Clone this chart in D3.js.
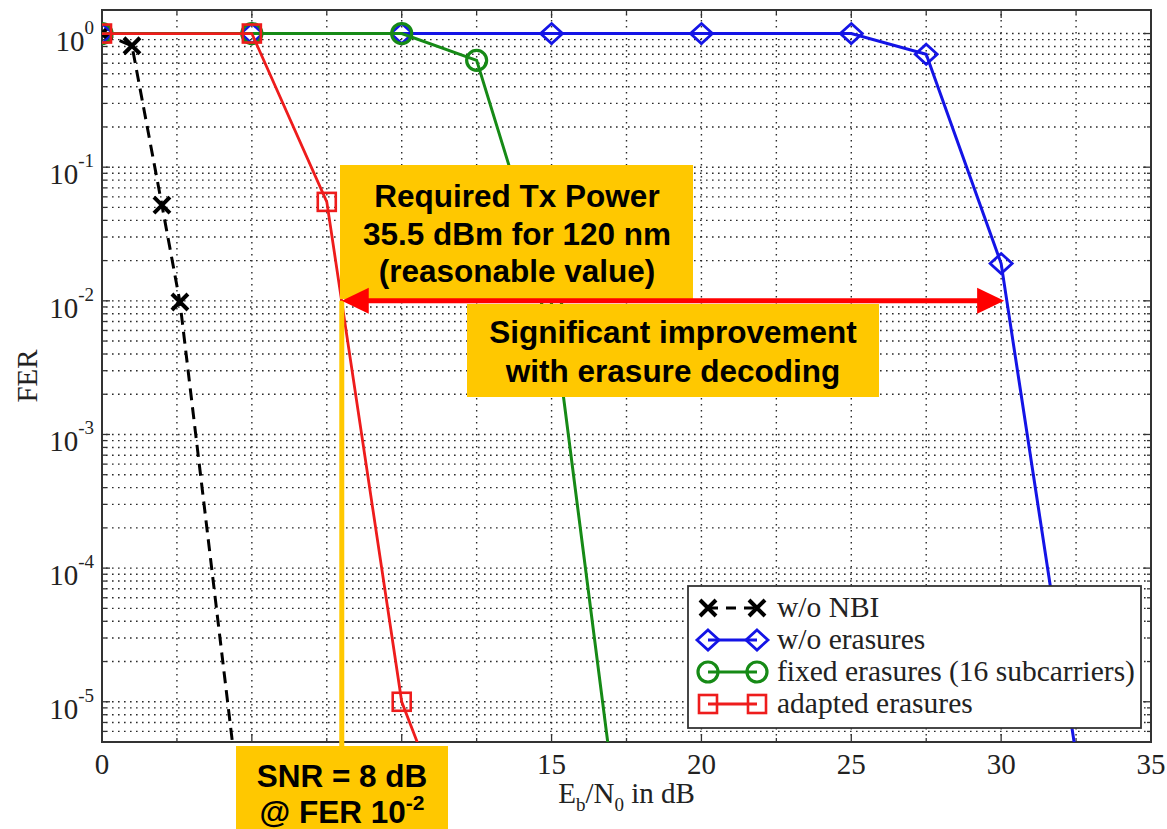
<!DOCTYPE html>
<html>
<head>
  <title>FER vs Eb/N0</title>
  <script src="https://d3js.org/d3.v7.min.js"></script>
  <style type="text/css">
    body {
      margin: 0;
      background-color: #ffffff;
    }
    svg {
      display: block;
    }
    .serif {
      font-family: 'Liberation Serif', 'Times New Roman', serif;
      fill: #222222;
    }
    .note {
      font-family: 'Liberation Sans', Arial, sans-serif;
      font-weight: bold;
      fill: #000000;
    }
  </style>
</head>
<body>
<div id="chart"></div>

<script>
  // series data (Eb/N0 in dB, FER)
  var noNbiX = [0, 1, 2, 2.6, 5];
  var noNbiFer = [1, 0.81, 0.052, 0.0098, 3e-7];
  var noErasX = [0, 5, 10, 15, 20, 25, 27.5, 30, 32.5];
  var noErasFer = [1, 1, 1, 1, 1, 1, 0.70, 0.019, 4e-6];
  var fixedX = [0, 5, 10, 12.5, 15, 17.5];
  var fixedFer = [1, 1, 1, 0.63, 0.0095, 4e-7];
  var adaptX = [0, 5, 7.5, 10, 12.5];
  var adaptFer = [1, 1, 0.055, 1e-5, 3.5e-7];

  var legendLabels = ["w/o NBI", "w/o erasures", "fixed erasures (16 subcarriers)", "adapted erasures"];

  var xTicks = [0, 5, 10, 15, 20, 25, 30, 35];
  var xMinorTicks = [2.5, 7.5, 12.5, 17.5, 22.5, 27.5, 32.5];
  var yTicks = [1, 0.1, 0.01, 0.001, 0.0001, 0.00001];
  var yTickExp = ["0", "-1", "-2", "-3", "-4", "-5"];

  // annotation values
  var ferRef = 0.01;
  var snrAdapted = 8;
  var snrNoErasures = 30.1;
  var noteTxPower = ["Required Tx Power", "35.5 dBm for 120 nm", "(reasonable value)"];
  var noteGain = ["Significant improvement", "with erasure decoding"];
  var noteSnr = ["SNR = 8 dB", "@ FER 10", "-2"];

  var W = 1167, H = 829;
  var pL = 102, pR = 1151, pT = 10, pB = 742;

  var svg = d3.select("#chart").append("svg").attr("width", W).attr("height", H);

  var x = d3.scaleLinear().domain([0, 35]).range([pL, pR]);
  var y = d3.scaleLog().domain([5e-6, 1.5]).range([pB, pT]);

  svg.append("defs").append("clipPath").attr("id", "plotclip")
    .append("rect").attr("x", pL).attr("y", pT).attr("width", pR - pL).attr("height", pB - pT);

  // grid (dotted, major + minor like matlab)
  var yGrid = [];
  for (var e = -6; e <= 0; e++) {
    for (var m = 1; m <= 9; m++) {
      var v = m * Math.pow(10, e);
      if (v >= 5e-6 && v <= 1.5) yGrid.push(v);
    }
  }
  var grid = svg.append("g");
  grid.selectAll(".hg").data(yGrid).enter().append("line")
    .attr("x1", pL + 4).attr("x2", pR - 4)
    .attr("y1", function(d) { return y(d); }).attr("y2", function(d) { return y(d); })
    .attr("stroke", "#2a2a2a").attr("stroke-width", 1.4).attr("stroke-dasharray", "1.6,4.4");
  grid.selectAll(".vg").data(xTicks.concat(xMinorTicks).filter(function(d) { return d > 0 && d < 35; })).enter().append("line")
    .attr("x1", function(d) { return x(d); }).attr("x2", function(d) { return x(d); })
    .attr("y1", pT + 4).attr("y2", pB - 4)
    .attr("stroke", "#2a2a2a").attr("stroke-width", 1.4).attr("stroke-dasharray", "1.6,4.4");

  // inward ticks on all sides
  var ticks = svg.append("g").attr("stroke", "#333").attr("stroke-width", 1.3);
  xTicks.concat(xMinorTicks).forEach(function(d) {
    var len = xTicks.indexOf(d) >= 0 ? 8 : 4;
    ticks.append("line").attr("x1", x(d)).attr("x2", x(d)).attr("y1", pB).attr("y2", pB - len);
    ticks.append("line").attr("x1", x(d)).attr("x2", x(d)).attr("y1", pT).attr("y2", pT + len);
  });
  yGrid.forEach(function(d) {
    var len = yTicks.indexOf(d) >= 0 ? 8 : 4;
    ticks.append("line").attr("x1", pL).attr("x2", pL + len).attr("y1", y(d)).attr("y2", y(d));
    ticks.append("line").attr("x1", pR).attr("x2", pR - len).attr("y1", y(d)).attr("y2", y(d));
  });

  // frame
  svg.append("rect").attr("x", pL).attr("y", pT).attr("width", pR - pL).attr("height", pB - pT)
    .attr("fill", "none").attr("stroke", "#333").attr("stroke-width", 2);

  // tick labels
  svg.selectAll(".xl").data(xTicks).enter().append("text").attr("class", "serif")
    .attr("x", function(d) { return x(d); }).attr("y", pB + 32)
    .attr("text-anchor", "middle").attr("font-size", 29).text(function(d) { return d; });

  yTicks.forEach(function(d, i) {
    var t = svg.append("text").attr("class", "serif").attr("x", pL - 8).attr("y", y(d) + 17)
      .attr("text-anchor", "end").attr("font-size", 29);
    t.append("tspan").text("10");
    t.append("tspan").attr("dy", -17).attr("font-size", 19).text(yTickExp[i]);
  });

  // axis titles
  var xl = svg.append("text").attr("class", "serif").attr("x", x(17.5)).attr("y", 803)
    .attr("text-anchor", "middle").attr("font-size", 29);
  xl.append("tspan").text("E");
  xl.append("tspan").attr("dy", 8).attr("font-size", 19).text("b");
  xl.append("tspan").attr("dy", -8).text("/N");
  xl.append("tspan").attr("dy", 8).attr("font-size", 19).text("0");
  xl.append("tspan").attr("dy", -8).text(" in dB");

  svg.append("text").attr("class", "serif").attr("transform", "translate(37,376) rotate(-90)")
    .attr("text-anchor", "middle").attr("font-size", 29).text("FER");

  // markers
  function marker(g, kind, cx, cy, color) {
    if (kind == "x") {
      g.append("path").attr("d", "M" + (cx - 8) + "," + (cy - 8) + "L" + (cx + 8) + "," + (cy + 8) + "M" + (cx - 8) + "," + (cy + 8) + "L" + (cx + 8) + "," + (cy - 8))
        .attr("stroke", color).attr("stroke-width", 4).attr("fill", "none");
    } else if (kind == "diamond") {
      g.append("path").attr("d", "M" + cx + "," + (cy - 10) + "L" + (cx + 11) + "," + cy + "L" + cx + "," + (cy + 10) + "L" + (cx - 11) + "," + cy + "Z")
        .attr("stroke", color).attr("stroke-width", 2.8).attr("fill", "none");
    } else if (kind == "circle") {
      g.append("circle").attr("cx", cx).attr("cy", cy).attr("r", 10)
        .attr("stroke", color).attr("stroke-width", 3.2).attr("fill", "none");
    } else {
      g.append("rect").attr("x", cx - 9).attr("y", cy - 9).attr("width", 18).attr("height", 18)
        .attr("stroke", color).attr("stroke-width", 2.6).attr("fill", "none");
    }
  }

  var series = [
    {x: noNbiX, y: noNbiFer, color: "#000000", kind: "x", dash: "12,7", width: 3},
    {x: noErasX, y: noErasFer, color: "#1414e6", kind: "diamond", dash: null, width: 3},
    {x: fixedX, y: fixedFer, color: "#168a16", kind: "circle", dash: null, width: 3},
    {x: adaptX, y: adaptFer, color: "#ee1c1c", kind: "square", dash: null, width: 2.8}
  ];

  var plot = svg.append("g").attr("clip-path", "url(#plotclip)");
  var line = d3.line().x(function(d) { return x(d[0]); }).y(function(d) { return y(d[1]); });

  series.forEach(function(s) {
    var pts = s.x.map(function(v, i) { return [v, s.y[i]]; });
    plot.append("path").datum(pts).attr("d", line).attr("fill", "none")
      .attr("stroke", s.color).attr("stroke-width", s.width)
      .attr("stroke-dasharray", s.dash);
    pts.forEach(function(p) { marker(plot, s.kind, x(p[0]), y(p[1]), s.color); });
  });

  // legend
  var lg = svg.append("g");
  lg.append("rect").attr("x", 688).attr("y", 586).attr("width", 453).attr("height", 142)
    .attr("fill", "#ffffff").attr("stroke", "#333").attr("stroke-width", 1.8);
  series.forEach(function(s, i) {
    var ly = 608 + i * 32;
    lg.append("line").attr("x1", 708).attr("x2", 757).attr("y1", ly).attr("y2", ly)
      .attr("stroke", s.color).attr("stroke-width", s.width).attr("stroke-dasharray", s.dash ? "10,8" : null);
    marker(lg, s.kind, 708, ly, s.color);
    marker(lg, s.kind, 757, ly, s.color);
    lg.append("text").attr("class", "serif").attr("x", 777).attr("y", ly + 9)
      .attr("font-size", 29.5).text(legendLabels[i]);
  });

  // annotations
  var gold = "#ffc800";
  var notes = svg.append("g");

  notes.append("rect").attr("x", 340).attr("y", 165).attr("width", 353).attr("height", 134).attr("fill", gold);
  noteTxPower.forEach(function(t, i) {
    notes.append("text").attr("class", "note").attr("x", 517).attr("y", 207 + i * 37.5)
      .attr("text-anchor", "middle").attr("font-size", 31.5).text(t);
  });

  notes.append("rect").attr("x", 467).attr("y", 304).attr("width", 412).attr("height", 93).attr("fill", gold);
  noteGain.forEach(function(t, i) {
    notes.append("text").attr("class", "note").attr("x", 673).attr("y", 343 + i * 39)
      .attr("text-anchor", "middle").attr("font-size", 31.5).text(t);
  });

  notes.append("rect").attr("x", 236).attr("y", 746).attr("width", 212).attr("height", 90).attr("fill", gold);
  notes.append("text").attr("class", "note").attr("x", 342).attr("y", 787)
    .attr("text-anchor", "middle").attr("font-size", 31.5).text(noteSnr[0]);
  var s3 = notes.append("text").attr("class", "note").attr("x", 342).attr("y", 823)
    .attr("text-anchor", "middle").attr("font-size", 31.5);
  s3.append("tspan").text(noteSnr[1]);
  s3.append("tspan").attr("dy", -13).attr("font-size", 21).text(noteSnr[2]);

  // vertical marker at SNR = 8 dB
  notes.append("line").attr("x1", x(snrAdapted)).attr("x2", x(snrAdapted))
    .attr("y1", y(ferRef)).attr("y2", 746).attr("stroke", gold).attr("stroke-width", 5);

  // double arrow between the two curves at FER 1e-2
  var ax1 = x(snrAdapted), ax2 = x(snrNoErasures), ay = y(ferRef);
  notes.append("line").attr("x1", ax1 + 20).attr("x2", ax2 - 20).attr("y1", ay).attr("y2", ay)
    .attr("stroke", "#ff0000").attr("stroke-width", 5);
  notes.append("path").attr("d", "M" + ax1 + "," + ay + "L" + (ax1 + 27) + "," + (ay - 13) + "L" + (ax1 + 27) + "," + (ay + 13) + "Z")
    .attr("fill", "#ff0000");
  notes.append("path").attr("d", "M" + ax2 + "," + ay + "L" + (ax2 - 27) + "," + (ay - 13) + "L" + (ax2 - 27) + "," + (ay + 13) + "Z")
    .attr("fill", "#ff0000");
</script>

</body>
</html>
